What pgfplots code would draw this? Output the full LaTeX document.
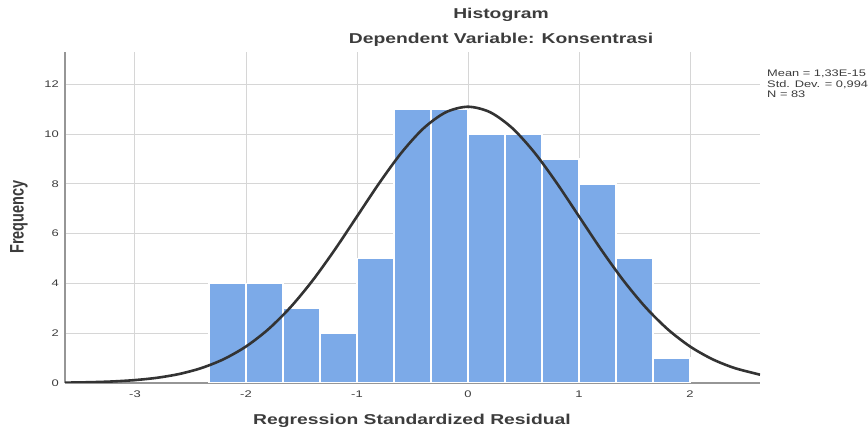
\documentclass[border=0pt]{standalone}
\usepackage{fontspec}
\setmainfont[FakeStretch=1.35]{Liberation Sans}
\newfontfamily\plainsans{Liberation Sans}
\usepackage{pgfplots}
\pgfplotsset{compat=1.18}
\definecolor{barblue}{RGB}{124,170,232}
\definecolor{gridgray}{RGB}{214,214,214}
\definecolor{axgray}{RGB}{150,150,150}
\definecolor{txt}{RGB}{60,60,60}
\definecolor{curvec}{RGB}{51,51,51}
\begin{document}
\begin{tikzpicture}[x=1bp,y=1bp]
\path[use as bounding box] (0,0) rectangle (868,434);
\begin{axis}[
  at={(65bp,51bp)}, anchor=south west,
  scale only axis, width=695bp, height=331bp,
  xmin=-3.63, xmax=2.63, ymin=0, ymax=13.3,
  axis x line=bottom, axis y line=left,
  axis line style={-, draw=axgray, line width=1.2bp},
  xtick={-3,-2,-1,0,1,2}, ytick={0,2,...,12},
  major tick length=0pt,
  grid=major, grid style={gridgray, line width=0.9bp},
  tick label style={font=\fontsize{9.6bp}{11bp}\selectfont, text=txt, inner sep=0pt},
  xticklabel style={yshift=-8bp},
  yticklabel style={xshift=-6bp},
  /pgf/number format/assume math mode=true,
]
\addplot[ybar interval, fill=barblue, draw=white, line width=1.3bp] coordinates {
(-2.3333,4) (-2,4) (-1.6667,3) (-1.3333,2) (-1,5) (-0.6667,11) (-0.3333,11)
(0,10) (0.3333,10) (0.6667,9) (1,8) (1.3333,5) (1.6667,1) (2,1)};
\addplot[curvec, line width=2.6bp, smooth, no markers] coordinates {
(-3.63,0.0141) (-3.4,0.032) (-3.2,0.0623) (-3.0,0.1167) (-2.8,0.210) (-2.6,0.363)
(-2.4,0.602) (-2.2,0.959) (-2.0,1.466) (-1.8,2.154) (-1.6,3.039) (-1.4,4.117)
(-1.2,5.356) (-1.0,6.692) (-0.8,8.029) (-0.6,9.251) (-0.4,10.236) (-0.2,10.878)
(0,11.10) (0.2,10.878) (0.4,10.236) (0.6,9.251) (0.8,8.029) (1.0,6.692)
(1.2,5.356) (1.4,4.117) (1.6,3.039) (1.8,2.154) (2.0,1.466) (2.2,0.959)
(2.4,0.602) (2.63,0.335)};
\end{axis}
\node[anchor=base, font=\bfseries\fontsize{14.3bp}{16bp}\selectfont, text=txt] at (501,415) {Histogram};
\node[anchor=base, font=\bfseries\fontsize{14.3bp}{16bp}\selectfont, text=txt] at (501,390) {Dependent Variable: Konsentrasi};
\node[anchor=base, font=\bfseries\fontsize{14.3bp}{16bp}\selectfont, text=txt] at (412,9) {Regression Standardized Residual};
\node[text=txt, inner sep=0pt] at (19,217) {\scalebox{1.35}[1]{\rotatebox{90}{\plainsans\bfseries\fontsize{14.5bp}{16bp}\selectfont Frequency}}};
\node[anchor=north west, align=left, font=\fontsize{9.5bp}{10.5bp}\selectfont, text=txt, inner sep=0pt] at (767,364) {Mean = 1,33E-15\\Std. Dev. = 0,994\\N = 83};
\end{tikzpicture}
\end{document}
